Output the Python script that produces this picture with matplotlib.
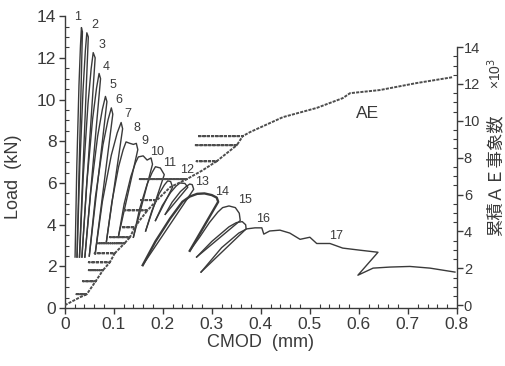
import matplotlib
matplotlib.use("Agg")
import matplotlib.pyplot as plt
from matplotlib.ticker import MultipleLocator, FixedLocator, FixedFormatter

plt.rcParams['font.family'] = ['Liberation Sans', 'DejaVu Sans']

ink = '#3a3a3a'

# load - CMOD cycles (cmod in mm, load in kN), one list per loop
loop_cmod = [
    [0.021, 0.0246, 0.029, 0.032, 0.034, 0.036, 0.025],
    [0.025, 0.0306, 0.0374, 0.042, 0.045, 0.048, 0.030],
    [0.030, 0.0378, 0.0474, 0.0538, 0.058, 0.062, 0.035],
    [0.035, 0.0448, 0.0567, 0.0648, 0.070, 0.073, 0.041],
    [0.041, 0.0528, 0.067, 0.0767, 0.083, 0.086, 0.050],
    [0.050, 0.0626, 0.0779, 0.0883, 0.095, 0.098, 0.062],
    [0.062, 0.0768, 0.0949, 0.107, 0.115, 0.118, 0.085],
    [0.085, 0.0962, 0.1098, 0.119, 0.125, 0.133, 0.140, 0.146, 0.149, 0.110],
    [0.110, 0.1212, 0.1348, 0.144, 0.150, 0.160, 0.168, 0.176, 0.179, 0.140],
    [0.140, 0.1526, 0.1679, 0.1783, 0.185, 0.195, 0.203, 0.165],
    [0.165, 0.1776, 0.1929, 0.2033, 0.210, 0.216, 0.220, 0.185],
    [0.185, 0.199, 0.216, 0.2275, 0.235, 0.245, 0.251, 0.205],
    [0.205, 0.219, 0.236, 0.2475, 0.255, 0.260, 0.263, 0.159],
    [0.159, 0.185, 0.215, 0.240, 0.255, 0.270, 0.285, 0.300, 0.310, 0.313, 0.255],
    [0.255, 0.275, 0.295, 0.312, 0.322, 0.335, 0.348, 0.356, 0.358, 0.269],
    [0.269, 0.300, 0.335, 0.350, 0.362, 0.369, 0.370, 0.278],
    [0.278, 0.320, 0.355, 0.371, 0.388, 0.402, 0.406, 0.418, 0.439, 0.459, 0.480,
     0.500, 0.514, 0.541, 0.567, 0.602, 0.639, 0.598, 0.629, 0.663, 0.704, 0.745, 0.796],
]
loop_load = [
    [2.45, 6.85, 10.7, 12.57, 13.45, 13.25, 2.45],
    [2.45, 6.75, 10.51, 12.34, 13.2, 13.0, 2.45],
    [2.45, 6.37, 9.8, 11.47, 12.25, 12.0, 2.45],
    [2.45, 5.97, 9.05, 10.55, 11.25, 11.0, 2.45],
    [2.45, 5.53, 8.23, 9.53, 10.15, 9.9, 2.5],
    [2.5, 5.34, 7.83, 9.03, 9.6, 9.3, 2.6],
    [2.6, 5.12, 7.33, 8.4, 8.9, 8.6, 3.2],
    [3.2, 5.1, 6.78, 7.59, 7.97, 7.9, 7.85, 7.9, 7.6, 3.5],
    [3.5, 5.0, 6.31, 6.95, 7.25, 7.3, 7.1, 7.2, 6.9, 3.4],
    [3.4, 4.75, 5.94, 6.51, 6.78, 6.72, 6.4, 3.7],
    [3.7, 4.66, 5.5, 5.91, 6.1, 6.07, 5.8, 4.2],
    [4.2, 4.92, 5.55, 5.86, 6.0, 5.98, 5.8, 4.5],
    [4.5, 5.08, 5.59, 5.83, 5.95, 5.92, 5.7, 2.06],
    [2.06, 3.2, 4.3, 5.1, 5.35, 5.48, 5.5, 5.42, 5.3, 5.1, 2.75],
    [2.75, 3.4, 4.1, 4.6, 4.82, 4.9, 4.82, 4.55, 4.2, 2.45],
    [2.45, 3.2, 3.9, 4.1, 4.15, 4.0, 3.8, 1.73],
    [1.73, 2.9, 3.6, 3.8, 3.85, 3.85, 3.55, 3.7, 3.74, 3.6, 3.3,
     3.4, 3.1, 3.1, 2.88, 2.78, 2.68, 1.58, 1.92, 1.97, 2.0, 1.92, 1.73],
]
loop_width = [1.0] * 13 + [1.7, 1.0, 1.0, 1.0]

# peak numbers and where they sit
peak_names = [str(i) for i in range(1, 18)]
peak_x = [0.027, 0.061, 0.076, 0.084, 0.098, 0.110, 0.129, 0.147, 0.163,
          0.188, 0.214, 0.249, 0.280, 0.320, 0.367, 0.404, 0.553]
peak_y = [13.95, 13.57, 12.6, 11.55, 10.7, 9.97, 9.3, 8.63, 8.0,
          7.48, 6.95, 6.62, 6.04, 5.56, 5.18, 4.27, 3.45]

# cumulative AE events (x10^3) vs CMOD, incl. the flat runs during unloading
ae_cmod = [0, 0.031, 0.045, 0.024, 0.045, 0.063, 0.037, 0.063, 0.078, 0.049, 0.078,
           0.092, 0.049, 0.092, 0.102, 0.061, 0.102, 0.122, 0.067, 0.122, 0.133, 0.092,
           0.133, 0.143, 0.116, 0.143, 0.153, 0.169, 0.118, 0.169, 0.188, 0.153, 0.188,
           0.215, 0.249, 0.153, 0.249, 0.280, 0.310, 0.269, 0.310, 0.351, 0.265, 0.351,
           0.363, 0.271, 0.363, 0.378, 0.445, 0.514, 0.567, 0.582, 0.643, 0.718, 0.792]
ae_count = [0, 0.43, 0.6, 0.6, 0.6, 1.3, 1.3, 1.3, 1.9, 1.9, 1.9,
            2.33, 2.33, 2.33, 2.82, 2.82, 2.82, 3.36, 3.36, 3.36, 3.69, 3.69,
            3.69, 4.23, 4.23, 4.23, 4.61, 5.15, 5.15, 5.15, 5.7, 5.7, 5.7,
            6.4, 6.84, 6.84, 6.84, 7.3, 7.81, 7.81, 7.81, 8.68, 8.68, 8.68,
            9.17, 9.17, 9.17, 9.39, 10.2, 10.7, 11.23, 11.5, 11.67, 12.05, 12.37]

x_ticks = [0, 0.1, 0.2, 0.3, 0.4, 0.5, 0.6, 0.7, 0.8]
x_ticklabels = ['0', '0.1', '0.2', '0.3', '0.4', '0.5', '0.6', '0.7', '0.8']
load_ticks = [0, 2, 4, 6, 8, 10, 12, 14]
ae_ticks = [0, 2, 4, 6, 8, 10, 12, 14]

fig = plt.figure(figsize=(5.06, 3.66), dpi=100)
ax = fig.add_axes([0.128, 0.158, 0.775, 0.798])
ax2 = ax.twinx()

for xs, ys, w in zip(loop_cmod, loop_load, loop_width):
    ax.plot(xs, ys, color=ink, lw=w, solid_joinstyle='round')

for name, x, y in zip(peak_names, peak_x, peak_y):
    ax.text(x, y, name, fontsize=9, color=ink, ha='center', va='center')

ax2.plot(ae_cmod, ae_count, color='#4d4d4d', lw=1.4, ls=(0, (1.6, 0.6)))
ax2.text(0.618, 10.4, 'AE', fontsize=12.5, color=ink, ha='center', va='center')

ax.set_xlim(0, 0.8)
ax.set_ylim(0, 14)
ax2.set_ylim(-0.16, 15.68)

ax.spines['top'].set_visible(False)
ax.spines['right'].set_visible(False)
for s in ['top', 'left', 'bottom']:
    ax2.spines[s].set_visible(False)
ax2.spines['right'].set_bounds(-0.16, 14)
for s in ['left', 'bottom']:
    ax.spines[s].set_color(ink)
    ax.spines[s].set_linewidth(1.0)
ax2.spines['right'].set_color(ink)
ax2.spines['right'].set_linewidth(1.0)

ax.xaxis.set_major_locator(FixedLocator(x_ticks))
ax.xaxis.set_major_formatter(FixedFormatter(x_ticklabels))
ax.xaxis.set_minor_locator(MultipleLocator(0.02))
ax.yaxis.set_major_locator(FixedLocator(load_ticks))
ax.yaxis.set_minor_locator(MultipleLocator(0.5))
ax2.yaxis.set_major_locator(FixedLocator(ae_ticks))
ax2.yaxis.set_minor_locator(FixedLocator([v * 0.5 for v in range(29)]))

ax.tick_params(which='major', direction='out', length=4, width=1, color=ink,
               labelcolor=ink, labelsize=12.5, pad=2)
ax.tick_params(which='minor', direction='in', length=3, width=0.8, color=ink)
ax2.tick_params(which='major', direction='out', length=4, width=1, color=ink,
                labelcolor=ink, labelsize=10.5, pad=1)
ax2.tick_params(which='minor', direction='in', length=3, width=0.8, color=ink)

ax.set_xlabel('CMOD  (mm)', fontsize=13, color=ink, labelpad=2)
ax.set_ylabel('Load  (kN)', fontsize=13, color=ink)
ax.yaxis.set_label_coords(-0.11, 0.45)

fig.text(0.98, 0.52, '累積ＡＥ事象数', rotation=90, fontsize=12.5, color=ink,
         ha='center', va='center', family=['Noto Sans CJK JP', 'DejaVu Sans'])
fig.text(0.978, 0.80, '×10$^3$', rotation=90, fontsize=10, color=ink,
         ha='center', va='center')

fig.savefig('out.png', dpi=100, facecolor='white')
